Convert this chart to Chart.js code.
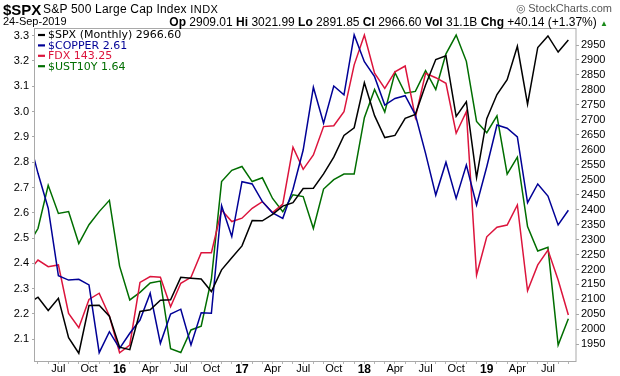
<!DOCTYPE html>
<html><head><meta charset="utf-8">
<script src="https://cdn.jsdelivr.net/npm/chart.js@4.4.1/dist/chart.umd.min.js"></script>
<style>
html,body{margin:0;padding:0;background:#fff;}
#wrap{position:relative;width:620px;height:376px;overflow:hidden;font-family:"Liberation Sans",Arial,sans-serif;color:#000;}
canvas{position:absolute;left:0;top:0;}
.h{position:absolute;white-space:nowrap;line-height:1;}
.h b{font-weight:bold;font-size:12px;}
</style></head><body>
<div id="wrap">
<canvas id="c" width="620" height="376"></canvas>
<div class="h" style="left:3px;top:2px;font-size:15px;font-weight:bold;">$SPX</div>
<div class="h" style="left:43px;top:3px;font-size:12px;letter-spacing:0.2px;">S&amp;P 500 Large Cap Index <span style="font-size:11px;letter-spacing:0.4px;">INDX</span></div>
<div class="h" style="right:8px;top:3px;font-size:11px;color:#555;">&#9678;&thinsp;StockCharts.com</div>
<div class="h" style="left:3px;top:16px;font-size:11px;">24-Sep-2019</div>
<div class="h" style="right:12px;top:16px;font-size:12px;"><b>Op</b> 2909.01 <b>Hi</b> 3021.99 <b>Lo</b> 2891.85 <b>Cl</b> 2966.60 <b>Vol</b> 31.1B <b>Chg</b> +40.14 (+1.37%) <span style="color:#1a8a1a;font-size:8px;">&#9650;</span></div>
</div>
<script>
// Monthly points, Apr 2015 .. Sep 2019
const months = ["Apr 2015","May 2015","Jun 2015","Jul 2015","Aug 2015","Sep 2015","Oct 2015","Nov 2015","Dec 2015",
"Jan 2016","Feb 2016","Mar 2016","Apr 2016","May 2016","Jun 2016","Jul 2016","Aug 2016","Sep 2016","Oct 2016","Nov 2016","Dec 2016",
"Jan 2017","Feb 2017","Mar 2017","Apr 2017","May 2017","Jun 2017","Jul 2017","Aug 2017","Sep 2017","Oct 2017","Nov 2017","Dec 2017",
"Jan 2018","Feb 2018","Mar 2018","Apr 2018","May 2018","Jun 2018","Jul 2018","Aug 2018","Sep 2018","Oct 2018","Nov 2018","Dec 2018",
"Jan 2019","Feb 2019","Mar 2019","Apr 2019","May 2019","Jun 2019","Jul 2019","Aug 2019","Sep 2019"];

const spx = [2085.51,2107.39,2063.11,2103.84,1972.18,1920.03,2079.36,2080.41,2043.94,
1940.24,1932.23,2059.74,2065.30,2096.95,2098.86,2173.60,2170.95,2168.27,2126.15,2198.81,2238.83,
2278.87,2363.64,2362.72,2384.20,2411.80,2423.41,2470.30,2471.65,2519.36,2575.26,2647.58,2673.61,
2823.81,2713.83,2640.87,2648.05,2705.27,2718.37,2816.29,2901.52,2913.98,2711.74,2760.17,2506.85,
2704.10,2784.49,2834.40,2945.83,2752.06,2941.76,2980.38,2926.46,2966.60];

const copper = [2.91,2.756,2.618,2.351,2.334,2.337,2.315,2.047,2.13,
2.064,2.124,2.176,2.282,2.084,2.20,2.219,2.078,2.205,2.203,2.628,2.506,
2.723,2.714,2.644,2.60,2.578,2.693,2.848,3.096,2.954,3.101,3.066,3.303,
3.197,3.138,3.026,3.052,3.063,2.987,2.835,2.67,2.80,2.657,2.789,2.631,
2.782,2.947,2.934,2.90,2.64,2.714,2.666,2.552,2.61];

const fdx = [162.7,168.1,165.1,165.9,144.0,137.5,150.3,153.1,142.8,
126.2,129.7,158.0,160.6,160.3,147.0,157.6,160.3,171.4,171.4,190.7,185.5,
187.0,191.5,194.5,189.5,193.4,219.1,209.1,215.6,228.4,228.8,235.1,256.3,
269.8,252.5,245.7,253.2,255.8,232.6,252.5,250.5,248.0,225.4,235.1,161.3,
178.6,182.9,183.9,193.0,154.2,165.9,172.6,159.1,143.25];

const ust10y = [2.03,2.12,2.35,2.20,2.21,2.04,2.14,2.21,2.27,
1.92,1.74,1.78,1.83,1.84,1.48,1.46,1.58,1.60,1.85,2.37,2.43,
2.45,2.37,2.39,2.28,2.21,2.30,2.29,2.12,2.33,2.38,2.41,2.41,
2.71,2.86,2.74,2.95,2.84,2.85,2.96,2.86,3.05,3.15,3.01,2.69,
2.63,2.72,2.41,2.50,2.13,2.00,2.02,1.50,1.64];

const seriesNames = ["$SPX (Monthly)","$COPPER","FDX","$UST10Y"];
const seriesColors = ["#000000","#000096","#dc143c","#006e00"];

// x-axis labels: index into months -> text
const xTickIndex = [3,6,9,12,15,18,21,24,27,30,33,36,39,42,45,48,51];
const xTickText  = ["Jul","Oct","16","Apr","Jul","Oct","17","Apr","Jul","Oct","18","Apr","Jul","Oct","19","Apr","Jul"];
const yearTicks  = ["16","17","18","19"];

const copperTicks = [2.1,2.2,2.3,2.4,2.5,2.6,2.7,2.8,2.9,3.0,3.1,3.2,3.3];
const spxTicks = [1950,2000,2050,2100,2150,2200,2250,2300,2350,2400,2450,2500,2550,2600,2650,2700,2750,2800,2850,2900,2950];

const pts = arr => arr.map((v,i)=>({x:i,y:v}));
const fmt = [v=>v.toFixed(2), v=>v.toFixed(2), v=>v.toFixed(2), v=>v.toFixed(2)];
const allSeries = [spx, copper, fdx, ust10y];
const axisIds = ["yS","yC","yF","yU"];

const datasets = allSeries.map((arr,k)=>({
  label: seriesNames[k],
  data: pts(arr),
  yAxisID: axisIds[k],
  borderColor: seriesColors[k],
  backgroundColor: seriesColors[k],
  borderWidth: 1.5,
  pointRadius: 0,
  tension: 0,
  clip: 0
}));

const boxPlugin = {
  id:'box',
  afterDraw(chart){
    const {ctx, chartArea:a} = chart;
    ctx.save();
    ctx.strokeStyle = '#a9a9a9';
    ctx.lineWidth = 1;
    ctx.strokeRect(a.left-0.5, a.top+0.5, a.right-a.left+0.5, a.bottom-a.top);
    ctx.restore();
  }
};

const legendPlugin = {
  id:'legendBox',
  afterDraw(chart){
    const {ctx, chartArea:a} = chart;
    ctx.save();
    ctx.font = '11px "DejaVu Sans", Verdana, sans-serif';
    ctx.textBaseline = 'middle';
    for (let k=0;k<seriesNames.length;k++){
      const y = a.top + 7 + k*10.4;
      ctx.strokeStyle = seriesColors[k];
      ctx.lineWidth = 2.2;
      ctx.beginPath(); ctx.moveTo(a.left+3, y); ctx.lineTo(a.left+10, y); ctx.stroke();
      ctx.fillStyle = seriesColors[k];
      const arr = allSeries[k];
      ctx.fillText(seriesNames[k] + ' ' + fmt[k](arr[arr.length-1]), a.left+13, y+0.5);
    }
    ctx.restore();
  }
};

const tickFont = {family:'"Liberation Sans", Arial, sans-serif', size:11};

new Chart(document.getElementById('c'), {
  type:'line',
  data:{ datasets },
  options:{
    responsive:false,
    animation:false,
    events:[],
    layout:{padding:{top:28,left:0,right:0,bottom:0}},
    plugins:{legend:{display:false}, tooltip:{enabled:false}},
    scales:{
      x:{
        type:'linear', position:'bottom', min:0.706, max:53.75,
        afterBuildTicks: s => { s.ticks = months.map((m,i)=>({value:i})).filter(t=>t.value>=1); },
        afterFit: s => { s.height = 15; },
        grid:{drawOnChartArea:false, drawTicks:true, tickLength:3, color:'#b4b4b4'},
        border:{display:false},
        ticks:{
          autoSkip:false, maxRotation:0, minRotation:0, padding:-2, color:'#000',
          callback: v => { const j = xTickIndex.indexOf(v); return j>=0 ? xTickText[j] : ''; },
          font: ctx => {
            const v = ctx.tick ? ctx.tick.value : -1;
            const j = xTickIndex.indexOf(v);
            const bold = j>=0 && yearTicks.includes(xTickText[j]);
            return bold ? {family:tickFont.family, size:12, weight:'bold'} : tickFont;
          }
        }
      },
      yC:{
        type:'linear', position:'left', min:2.0142, max:3.3304,
        afterBuildTicks: s => { s.ticks = copperTicks.map(v=>({value:v})); },
        afterFit: s => { s.width = 35; },
        grid:{drawOnChartArea:false, drawTicks:true, tickLength:3, color:'#a9a9a9'},
        border:{display:false},
        ticks:{padding:3, color:'#000', font:tickFont, callback: v => Number(v).toFixed(1)}
      },
      yS:{
        type:'linear', position:'right', min:1894.2, max:3006.8,
        afterBuildTicks: s => { s.ticks = spxTicks.map(v=>({value:v})); },
        afterFit: s => { s.width = 44; },
        grid:{drawOnChartArea:false, drawTicks:true, tickLength:3, color:'#a9a9a9'},
        border:{display:false},
        ticks:{padding:2, color:'#000', font:tickFont, callback: v => String(Math.round(v))}
      },
      yF:{ type:'linear', display:false, min:122.46, max:272.97 },
      yU:{ type:'linear', display:false, min:1.4148, max:3.1874 }
    }
  },
  plugins:[boxPlugin, legendPlugin]
});
</script>
</body></html>
